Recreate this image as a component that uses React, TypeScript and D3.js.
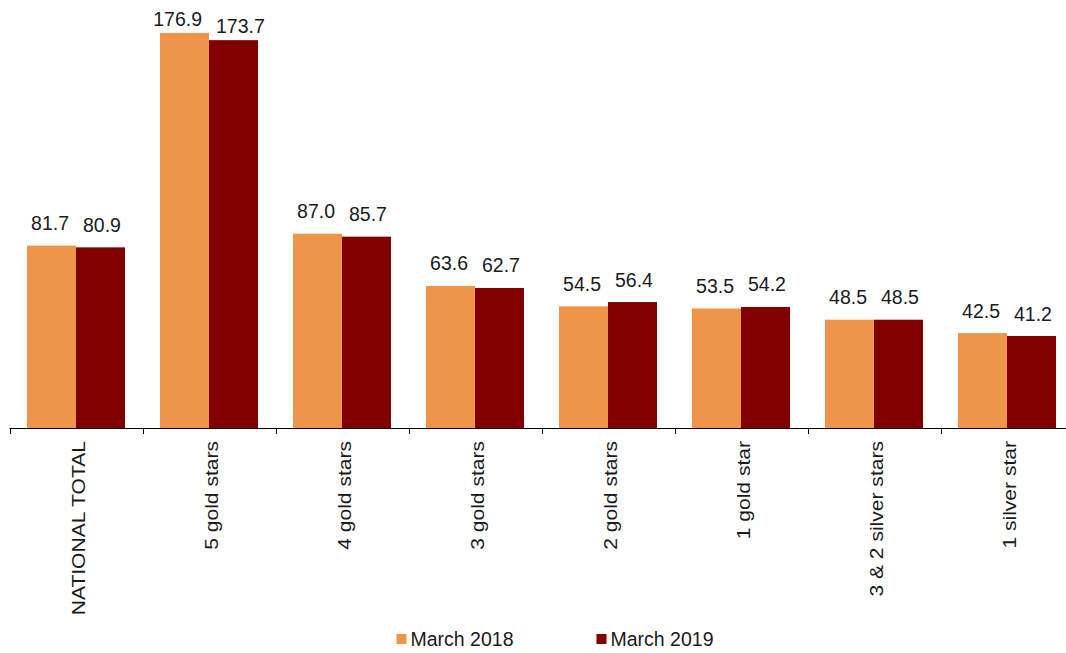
import React from "react";
import * as d3 from "d3";

const categories = ["NATIONAL TOTAL", "5 gold stars", "4 gold stars", "3 gold stars", "2 gold stars", "1 gold star", "3 & 2 silver stars", "1 silver star"];
const march2018 = [81.7, 176.9, 87.0, 63.6, 54.5, 53.5, 48.5, 42.5];
const march2019 = [80.9, 173.7, 85.7, 62.7, 56.4, 54.2, 48.5, 41.2];
const seriesNames = ["March 2018", "March 2019"];
const colors = ["#EE9549", "#800000"];

const estWidth = (s: string, fs: number) =>
  s.split("").reduce((a, ch) => a + (ch === "." ? 0.278 : 0.556), 0) * fs;

export default function App() {
  const W = 1066, H = 653;
  const baseY = 428;
  const x = d3.scaleBand<string>().domain(categories).range([9.5, 9.5 + 133 * 8]).paddingInner(0).paddingOuter(0);
  const y = d3.scaleLinear().domain([0, 176.9]).range([baseY, 33]);
  const barW = 49;
  const series = [march2018, march2019];
  const font = "Liberation Sans, Arial, sans-serif";
  const textColor = "#1a1a1a";
  const fsVal = 19.5;
  const minGap = 14;
  const labelY = (top: number) => (top - 15.5 >= 32 ? top - 15.5 : top - 7.5);
  return (
    <svg width={W} height={H} style={{ position: "absolute", left: 0, top: 0 }} fontFamily={font}>
      <rect width={W} height={H} fill="#fff" />
      {categories.map((c, i) => {
        const cx = (x(c) as number) + x.bandwidth() / 2;
        const labels = series.map((s) => s[i].toFixed(1));
        const w0 = estWidth(labels[0], fsVal);
        const w1 = estWidth(labels[1], fsVal);
        const need = (w0 + w1) / 2 + minGap;
        const push = Math.max(0, (need - barW) / 2);
        return (
          <g key={c}>
            {series.map((s, si) => {
              const bx = cx - barW + si * barW;
              const top = y(s[i]);
              const lx = bx + barW / 2 + (si === 0 ? -push : push);
              return (
                <g key={si}>
                  <rect x={bx} y={top} width={barW} height={baseY - top} fill={colors[si]} />
                  <text x={lx} y={labelY(top)} textAnchor="middle" fontSize={fsVal} fill={textColor}>
                    {labels[si]}
                  </text>
                </g>
              );
            })}
            <text
              transform={`translate(${cx + 3},441) rotate(-90) scale(1.17,1)`}
              textAnchor="end"
              dominantBaseline="central"
              fontSize={18}
              fill={textColor}
            >
              {c}
            </text>
          </g>
        );
      })}
      <line x1={9.5} x2={W} y1={baseY + 0.5} y2={baseY + 0.5} stroke="#000" strokeWidth={1} />
      {d3.range(categories.length + 1).map((k) => {
        const tx = Math.round(9.5 + 133 * k) + 0.5;
        return <line key={k} x1={tx} x2={tx} y1={baseY} y2={baseY + 6} stroke="#000" strokeWidth={1} />;
      })}
      {seriesNames.map((n, i) => (
        <g key={n} transform={`translate(${396.5 + i * 200},634)`}>
          <rect x={0} y={0} width={10} height={10} fill={colors[i]} />
          <text x={14} y={11.7} fontSize={fsVal} fill={textColor}>
            {n}
          </text>
        </g>
      ))}
    </svg>
  );
}
